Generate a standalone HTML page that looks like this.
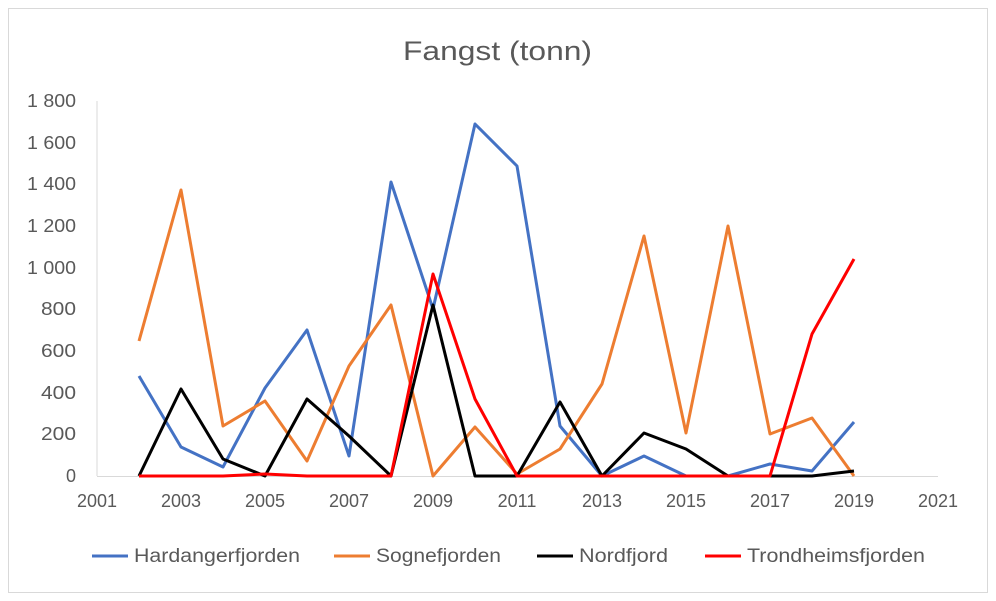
<!DOCTYPE html>
<html><head><meta charset="utf-8"><style>
html,body{margin:0;padding:0;background:#fff;}
svg{display:block;font-family:"Liberation Sans",sans-serif;}
</style></head><body>
<svg width="996" height="601" viewBox="0 0 996 601" xmlns="http://www.w3.org/2000/svg">
<rect x="0" y="0" width="996" height="601" fill="#fff"/>
<rect x="8.5" y="8.5" width="979" height="584" fill="none" stroke="#d9d9d9" stroke-width="1"/>
<text x="403" y="60" font-size="27" fill="#595959" textLength="189" lengthAdjust="spacingAndGlyphs">Fangst (tonn)</text>
<g font-size="18" fill="#595959" text-anchor="end">
<text x="76" y="482">0</text>
<text x="76" y="440" textLength="35" lengthAdjust="spacingAndGlyphs">200</text>
<text x="76" y="399" textLength="35" lengthAdjust="spacingAndGlyphs">400</text>
<text x="76" y="357" textLength="35" lengthAdjust="spacingAndGlyphs">600</text>
<text x="76" y="315" textLength="35" lengthAdjust="spacingAndGlyphs">800</text>
<text x="76" y="274" textLength="49" lengthAdjust="spacingAndGlyphs">1 000</text>
<text x="76" y="232" textLength="49" lengthAdjust="spacingAndGlyphs">1 200</text>
<text x="76" y="190" textLength="49" lengthAdjust="spacingAndGlyphs">1 400</text>
<text x="76" y="149" textLength="49" lengthAdjust="spacingAndGlyphs">1 600</text>
<text x="76" y="107" textLength="49" lengthAdjust="spacingAndGlyphs">1 800</text>
</g>
<g font-size="18" fill="#595959" text-anchor="middle">
<text x="97" y="507">2001</text>
<text x="181" y="507">2003</text>
<text x="265" y="507">2005</text>
<text x="349" y="507">2007</text>
<text x="433" y="507">2009</text>
<text x="517" y="507">2011</text>
<text x="602" y="507">2013</text>
<text x="686" y="507">2015</text>
<text x="770" y="507">2017</text>
<text x="854" y="507">2019</text>
<text x="938" y="507">2021</text>
</g>
<line x1="97" y1="101" x2="97" y2="476" stroke="#d9d9d9"/>
<line x1="97" y1="476.5" x2="938" y2="476.5" stroke="#d9d9d9"/>
<g fill="none" stroke-width="3" stroke-linejoin="round">
<polyline stroke="#4472c4" points="139,376 181,447 223,467 265,388 307,330 349,456 391,182 433,309 475,124 517,166 560,426 602,476 644,456 686,476 728,476 770,464 812,471 854,422"/>
<polyline stroke="#ed7d31" points="139,341 181,190 223,426 265,401 307,461 349,366 391,305 433,476 475,427 517,474 560,449 602,384 644,236 686,433 728,226 770,434 812,418 854,476"/>
<polyline stroke="#000" points="139,476 181,389 223,459 265,476 307,399 349,436 391,476 433,305 475,476 517,476 560,402 602,476 644,433 686,449 728,476 770,476 812,476 854,471"/>
<polyline stroke="#ff0000" points="139,476 181,476 223,476 265,474 307,476 349,476 391,476 433,274 475,399 517,476 560,476 602,476 644,476 686,476 728,476 770,476 812,334 854,259"/>
</g>
<g font-size="19" fill="#595959">
<line x1="92" y1="556" x2="128" y2="556" stroke="#4472c4" stroke-width="3"/>
<text x="134" y="562" textLength="166" lengthAdjust="spacingAndGlyphs">Hardangerfjorden</text>
<line x1="334" y1="556" x2="370" y2="556" stroke="#ed7d31" stroke-width="3"/>
<text x="376" y="562" textLength="125" lengthAdjust="spacingAndGlyphs">Sognefjorden</text>
<line x1="537" y1="556" x2="573" y2="556" stroke="#000" stroke-width="3"/>
<text x="579" y="562" textLength="89" lengthAdjust="spacingAndGlyphs">Nordfjord</text>
<line x1="705" y1="556" x2="741" y2="556" stroke="#ff0000" stroke-width="3"/>
<text x="747" y="562" textLength="178" lengthAdjust="spacingAndGlyphs">Trondheimsfjorden</text>
</g>
</svg>
</body></html>
